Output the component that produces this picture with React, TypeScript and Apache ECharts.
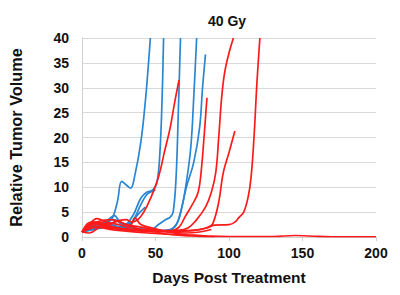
import React, { useEffect, useRef } from "react";
import * as echarts from "echarts";

const xTicks = [0, 50, 100, 150, 200];
const yTicks = [0, 5, 10, 15, 20, 25, 30, 35, 40];

// Blue curves: [day, relative volume]
const blue1 = [[0,1],[5,1.8],[10,2.3],[15,2.8],[20,3.5],[24,7],[27,11.2],[30,10.5],[33,9.8],[36,12.5],[40,19],[43,27],[45,34],[46.5,40]];
const blue2 = [[0,1],[7,1.8],[14,2.5],[20,2.5],[25,2.0],[30,2.5],[35,4.5],[40,7.8],[44,9],[48,9.4],[51,11],[53,17],[54.5,28],[55.5,40]];
const blue3 = [[0,1],[6,1.5],[12,2.0],[18,3.5],[22,4.3],[26,3.0],[32,2.5],[36,4],[40,6.5],[44,8.5],[48,9.2],[50,9.4]];
const blue4 = [[0,1],[8,2],[15,2.5],[22,2],[30,1.8],[40,1.5],[47,1.5],[52,2.5],[57,3.5],[60,4],[62,5],[64,12],[65.5,25],[67,40]];
const blue5 = [[0,1],[10,2.2],[20,1.8],[30,1.5],[40,1.3],[50,1.2],[60,1.5],[65,3],[68,6],[71,11],[74,18],[76,28],[78,40]];
const blue6 = [[0,1],[10,1.6],[20,2.2],[30,2],[45,1.5],[55,1.3],[63,2],[67,5],[71,10],[76,15],[80,22],[82,30],[84,36.7]];
const blue7 = [[0,1],[8,2.5],[15,3],[22,3.5],[28,2.5],[34,3],[38,4.5],[43,6]];

// Red curves
const red1 = [[0,1],[5,2.5],[10,3.7],[15,3.2],[20,2.8],[25,3.3],[30,3.5],[34,3],[38,3.5],[42,5],[47,8],[52,12],[56,17],[60,22],[63,27],[66,31.5]];
const red2 = [[0,1],[6,3],[12,3],[20,2],[30,1.5],[40,1.2],[50,1.1],[60,1.2],[66,2],[70,4],[75,6.5],[79,9],[81,13],[83,20],[85,28]];
const red3 = [[0,1],[8,2.8],[15,2.5],[25,1.8],[35,1.5],[45,1.3],[55,1.2],[65,1.3],[72,1.8],[78,3.5],[84,6],[88,9],[91,13],[93,20],[95,28],[97,33],[100,37],[103,40]];
const red4 = [[0,1],[10,2],[20,1.8],[30,1.6],[40,1.5],[50,1.4],[60,1.3],[70,1.3],[80,1.5],[86,2],[89,2.7],[93,7],[96,12.8],[100,17],[104,21.3]];
const red5 = [[0,1],[10,2.5],[20,1.8],[30,1.5],[45,1.3],[60,1.1],[75,1.3],[85,1.8],[90,2.4],[100,2.5],[104,3],[107,4],[110,5],[113,8],[115,12],[117,20],[119,31],[121,40]];
const red6 = [[0,1],[10,2],[20,1.5],[30,1.2],[40,0.9],[55,0.6],[70,0.4],[85,0.2],[100,0.1],[130,0.1],[145,0.3],[155,0.2],[170,0.05],[200,0.05]];
const red7 = [[0,1],[8,3],[16,2.2],[24,3.2],[30,2.5],[40,1.5],[50,1],[60,0.5],[75,0.2],[90,0.05]];
const red8 = [[0,1],[5,0.8],[12,2],[18,2.8],[25,2.5],[32,2],[36,3.8],[40,2.5],[48,1.8],[58,1],[70,0.5],[85,0.2]];
const red9 = [[0,1],[10,3],[20,3.5],[30,2.5],[40,2],[50,1.4],[60,1],[70,0.8],[80,1],[88,1.5]];

const blueSeries = [blue1, blue2, blue3, blue4, blue5, blue6, blue7];
const redSeries = [red1, red2, red3, red4, red5, red6, red7, red8, red9];

const BLUE = "#2a86d2";
const RED = "#ff1a1a";
const FONT = "Liberation Sans, Arial, sans-serif";

export default function App() {
  const ref = useRef<HTMLDivElement>(null);
  useEffect(() => {
    if (!ref.current) return;
    const chart = echarts.init(ref.current, undefined, { renderer: "svg" });
    const mk = (data: number[][], color: string) => ({
      type: "line",
      data,
      smooth: 0.4,
      showSymbol: false,
      symbol: "none",
      lineStyle: { color, width: 1.7 },
      clip: true,
    });
    chart.setOption({
      animation: false,
      title: {
        text: "40 Gy",
        left: 222,
        top: 9,
        textAlign: "center",
        textStyle: { fontFamily: FONT, fontWeight: "bold", fontSize: 14, color: "#111" },
      },
      grid: { left: 82, right: 24, top: 38, bottom: 58 },
      xAxis: {
        type: "value",
        min: xTicks[0],
        max: xTicks[xTicks.length - 1],
        interval: 50,
        name: "Days Post Treatment",
        nameLocation: "middle",
        nameGap: 32,
        nameTextStyle: { fontFamily: FONT, fontWeight: "bold", fontSize: 15.5, color: "#111" },
        axisLine: { show: true, lineStyle: { color: "#d0d0d0" } },
        axisTick: { show: true, length: 4, lineStyle: { color: "#d0d0d0" } },
        axisLabel: { fontFamily: FONT, fontWeight: "bold", fontSize: 14, color: "#111", margin: 9 },
        splitLine: { show: false },
      },
      yAxis: {
        type: "value",
        min: yTicks[0],
        max: yTicks[yTicks.length - 1],
        interval: 5,
        name: "Relative Tumor Volume",
        nameLocation: "middle",
        nameGap: 58,
        nameTextStyle: { fontFamily: FONT, fontWeight: "bold", fontSize: 16.3, color: "#111" },
        axisLine: { show: true, lineStyle: { color: "#d0d0d0" } },
        axisTick: { show: false },
        axisLabel: { fontFamily: FONT, fontWeight: "bold", fontSize: 14, color: "#111", margin: 13 },
        splitLine: { show: true, lineStyle: { color: "#d9d9d9", width: 1 } },
      },
      series: [
        ...blueSeries.map((d) => mk(d, BLUE)),
        ...redSeries.map((d) => mk(d, RED)),
      ],
    });
    return () => chart.dispose();
  }, []);
  return <div ref={ref} style={{ width: 400, height: 295, position: "absolute", left: 0, top: 0 }} />;
}
